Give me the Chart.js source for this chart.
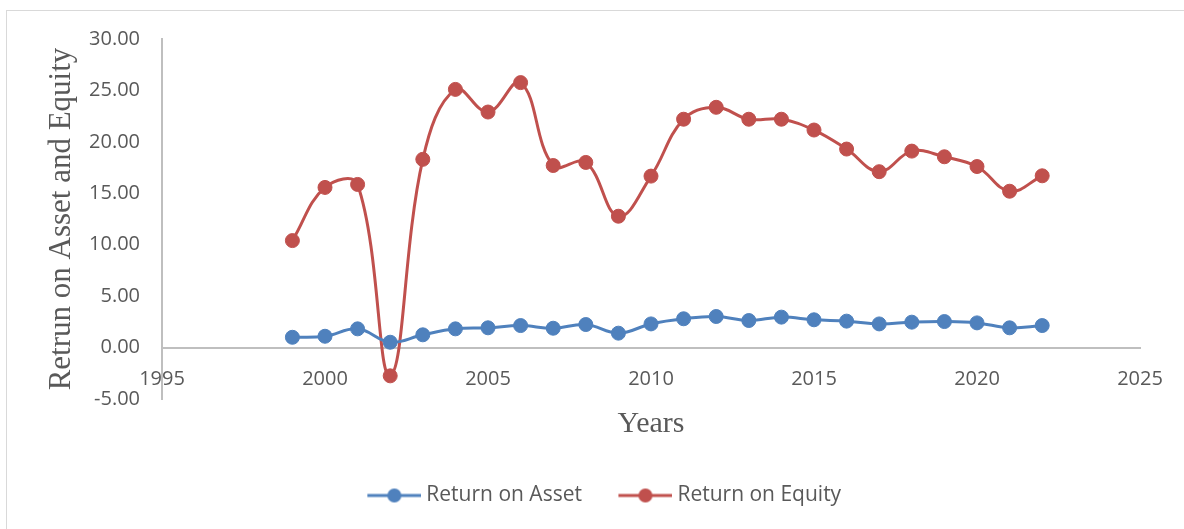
<!DOCTYPE html>
<html>
<head>
<meta charset="utf-8">
<script src="https://cdn.jsdelivr.net/npm/chart.js@4"></script>
<style>
  html, body { margin: 0; padding: 0; background: #ffffff; }
  #wrap { width: 1184px; height: 529px; }
</style>
</head>
<body>
<div id="wrap"><canvas id="myChart" width="1184" height="529"></canvas></div>
<script>
var years = [1999, 2000, 2001, 2002, 2003, 2004, 2005, 2006, 2007, 2008, 2009, 2010,
	2011, 2012, 2013, 2014, 2015, 2016, 2017, 2018, 2019, 2020, 2021, 2022];
var returnOnAsset = [1.00, 1.10, 1.82, 0.52, 1.24, 1.82, 1.92, 2.14, 1.88, 2.24, 1.40, 2.30,
	2.80, 3.02, 2.63, 2.96, 2.70, 2.57, 2.30, 2.47, 2.53, 2.40, 1.92, 2.14];
var returnOnEquity = [10.40, 15.57, 15.86, -2.75, 18.30, 25.10, 22.90, 25.76, 17.70, 18.00, 12.77, 16.67,
	22.20, 23.36, 22.20, 22.20, 21.15, 19.30, 17.10, 19.10, 18.55, 17.60, 15.20, 16.70];
var seriesNames = ["Return on Asset", "Return on Equity"];
var seriesColors = ["#4F81BD", "#C0504D"];

function toPoints(values) {
	var pts = [];
	for (var i = 0; i < years.length; i++) {
		pts.push({ x: years[i], y: values[i] });
	}
	return pts;
}

// legend marker: short line with a dot, like the office charts
function legendMarker(color) {
	var c = document.createElement("canvas");
	c.width = 86;
	c.height = 16;
	var g = c.getContext("2d");
	g.strokeStyle = color;
	g.lineWidth = 3;
	g.beginPath();
	g.moveTo(32, 8);
	g.lineTo(86, 8);
	g.stroke();
	g.fillStyle = color;
	g.beginPath();
	g.arc(59, 8, 7, 0, Math.PI * 2);
	g.fill();
	return c;
}
var markers = [legendMarker(seriesColors[0]), legendMarker(seriesColors[1])];

var frame = {
	id: "frame",
	beforeDraw: function(chart) {
		var ctx = chart.ctx;
		ctx.save();
		ctx.strokeStyle = "#d9d9d9";
		ctx.lineWidth = 1;
		ctx.strokeRect(6.5, 10.5, 1200, 600);
		ctx.restore();
	}
};

Chart.defaults.font.family = "'Open Sans', sans-serif";
Chart.defaults.color = "#595959";

var ctx = document.getElementById("myChart");

var data = {
	datasets: [
		{
			label: seriesNames[0],
			data: toPoints(returnOnAsset),
			borderColor: seriesColors[0],
			backgroundColor: seriesColors[0],
			pointBackgroundColor: seriesColors[0],
			pointBorderColor: seriesColors[0],
			borderWidth: 3,
			pointRadius: 7,
			pointBorderWidth: 1,
			showLine: true,
			tension: 0.4,
			fill: false
		},
		{
			label: seriesNames[1],
			data: toPoints(returnOnEquity),
			borderColor: seriesColors[1],
			backgroundColor: seriesColors[1],
			pointBackgroundColor: seriesColors[1],
			pointBorderColor: seriesColors[1],
			borderWidth: 3,
			pointRadius: 7,
			pointBorderWidth: 1,
			showLine: true,
			tension: 0.4,
			fill: false
		}
	]
};

var myChart = new Chart(ctx, {
	type: "scatter",
	data: data,
	plugins: [frame],
	options: {
		responsive: false,
		animation: false,
		layout: { padding: { left: 42, right: 44, top: 39, bottom: 13 } },
		scales: {
			x: {
				type: "linear",
				min: 1995,
				max: 2025,
				position: { y: 0 },
				grid: { display: false, drawTicks: false },
				border: { display: true, color: "#bfbfbf", width: 2 },
				ticks: {
					stepSize: 5,
					padding: 20,
					font: { size: 20 },
					color: "#595959",
					callback: function(v) { return String(v); }
				},
				title: {
					display: true,
					text: "Years",
					color: "#595959",
					font: { family: "'Liberation Serif', serif", size: 30, lineHeight: 0.87 },
					padding: { top: 0, bottom: 0 }
				}
			},
			y: {
				min: -5,
				max: 30,
				grid: { display: false, drawTicks: false },
				border: { display: true, color: "#bfbfbf", width: 2 },
				ticks: {
					stepSize: 5,
					padding: 22,
					font: { size: 20 },
					color: "#595959",
					callback: function(v) { return v.toFixed(2); }
				},
				title: {
					display: true,
					text: "Retrun on Asset and Equity",
					color: "#595959",
					font: { family: "'Liberation Serif', serif", size: 31 },
					padding: { top: 1, bottom: 0 }
				},
				afterFit: function(scale) { scale.width = 120; }
			}
		},
		plugins: {
			tooltip: { enabled: false },
			legend: {
				position: "bottom",
				title: { display: true, text: "", font: { size: 10 }, padding: { top: 64, bottom: 0 } },
				labels: {
					usePointStyle: true,
					pointStyleWidth: 75,
					padding: 10,
					font: { size: 21 },
					color: "#595959",
					generateLabels: function(chart) {
						var items = Chart.defaults.plugins.legend.labels.generateLabels(chart);
						for (var i = 0; i < items.length; i++) {
							items[i].pointStyle = markers[i];
						}
						return items;
					}
				}
			}
		}
	}
});
</script>
</body>
</html>
